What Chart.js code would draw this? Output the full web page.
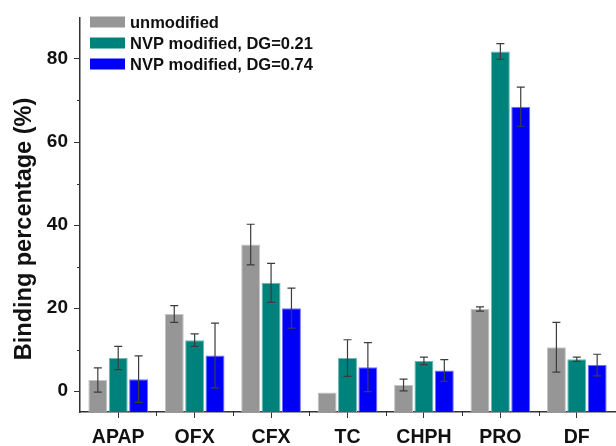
<!DOCTYPE html>
<html>
<head>
<meta charset="utf-8">
<script src="https://cdn.jsdelivr.net/npm/chart.js@4/dist/chart.umd.min.js"></script>
<style>
    html, body { margin: 0; padding: 0; background: #fff; }
    #wrap { width: 616px; height: 446px; }
</style>
</head>
<body>
<div id="wrap"><canvas id="bar-chart"></canvas></div>
<script>
const categories = ['APAP', 'OFX', 'CFX', 'TC', 'CHPH', 'PRO', 'DF'];
const series_labels = ['unmodified', 'NVP modified, DG=0.21', 'NVP modified, DG=0.74'];
const unmodified = [2.7, 18.6, 35.3, -0.3, 1.5, 19.8, 10.6];
const unmodified_err = [2.9, 2.0, 4.9, 0, 1.4, 0.5, 6.0];
const dg021 = [8.0, 12.3, 26.1, 8.0, 7.3, 81.8, 7.7];
const dg021_err = [2.8, 1.5, 4.7, 4.4, 0.9, 1.9, 0.5];
const dg074 = [2.9, 8.6, 20.0, 5.8, 5.0, 68.5, 6.3];
const dg074_err = [5.6, 7.8, 4.8, 5.9, 2.6, 4.7, 2.6];
const y_major_ticks = [0, 20, 40, 60, 80];
const y_minor_ticks = [10, 30, 50, 70];

const FONT = '"Liberation Sans", Arial, sans-serif';
Chart.defaults.font.family = FONT;
Chart.defaults.font.weight = 'bold';
Chart.defaults.color = '#111';

const errors = [unmodified_err, dg021_err, dg074_err];

// error bars, minor ticks, legend and y title drawn on top
const extras = {
    id: 'extras',
    afterDatasetsDraw(chart) {
        const ctx = chart.ctx;
        const y = chart.scales.y;
        ctx.save();
        ctx.strokeStyle = '#3c3c3c';
        ctx.lineWidth = 1.2;
        chart.data.datasets.forEach((ds, i) => {
            const meta = chart.getDatasetMeta(i);
            meta.data.forEach((bar, j) => {
                const e = errors[i][j];
                if (!e) return;
                const v = ds.data[j];
                const top = y.getPixelForValue(v + e);
                const bot = y.getPixelForValue(v - e);
                ctx.beginPath();
                ctx.moveTo(bar.x, top); ctx.lineTo(bar.x, bot);
                ctx.moveTo(bar.x - 4, top); ctx.lineTo(bar.x + 4, top);
                ctx.moveTo(bar.x - 4, bot); ctx.lineTo(bar.x + 4, bot);
                ctx.stroke();
            });
        });
        ctx.restore();
    },
    afterDraw(chart) {
        const ctx = chart.ctx;
        const { x, y } = chart.scales;
        const area = chart.chartArea;
        ctx.save();
        ctx.strokeStyle = '#333';
        ctx.lineWidth = 1;
        ctx.beginPath();
        for (const v of y_minor_ticks) {
            const py = Math.round(y.getPixelForValue(v)) + 0.5;
            ctx.moveTo(area.left - 3, py); ctx.lineTo(area.left, py);
        }
        const step = (area.right - area.left) / categories.length;
        for (let k = 1; k < categories.length; k++) {
            const px = Math.round(area.left + k * step) + 0.5;
            ctx.moveTo(px, area.bottom); ctx.lineTo(px, area.bottom + 4);
        }
        ctx.stroke();

        // legend
        ctx.font = 'bold 16.5px ' + FONT;
        ctx.textBaseline = 'middle';
        ctx.textAlign = 'left';
        chart.data.datasets.forEach((ds, i) => {
            const cy = 22 + i * 21;
            ctx.fillStyle = ds.backgroundColor;
            ctx.fillRect(90, cy - 5.5, 35, 11);
            ctx.fillStyle = '#111';
            ctx.fillText(ds.label, 130, cy + 1);
        });

        // y title
        ctx.translate(24, 229);
        ctx.rotate(-Math.PI / 2);
        ctx.textAlign = 'center';
        ctx.font = 'bold 23.5px ' + FONT;
        ctx.fillText('Binding percentage (%)', 0, 1);
        ctx.restore();
    }
};

function bar_set(label, data, color, border) {
    return {
        label,
        data,
        backgroundColor: color,
        borderColor: border,
        borderWidth: 1,
        base: -5,
        categoryPercentage: 0.8,
        barPercentage: 0.93
    };
}

const config = {
    type: 'bar',
    data: {
        labels: categories,
        datasets: [
            bar_set(series_labels[0], unmodified, '#969696', '#c4c4c4'),
            bar_set(series_labels[1], dg021, '#00827c', '#6fb8b2'),
            bar_set(series_labels[2], dg074, '#0000f6', '#7070ff')
        ]
    },
    options: {
        responsive: true,
        maintainAspectRatio: false,
        animation: false,
        layout: { padding: { top: 13, right: 1, left: 0, bottom: 0 } },
        plugins: {
            legend: { display: false },
            tooltip: { enabled: false }
        },
        scales: {
            x: {
                offset: true,
                grid: { display: true, offset: false, drawOnChartArea: false, tickLength: 6, tickColor: '#333', tickWidth: 1 },
                border: { color: '#333', width: 1.5 },
                ticks: { font: { size: 19.5, weight: 'bold' }, color: '#111', padding: 8, maxRotation: 0 },
                afterFit(scale) { scale.height = 34; }
            },
            y: {
                min: -5,
                max: 90,
                afterBuildTicks(scale) { scale.ticks = y_major_ticks.map(v => ({ value: v })); },
                grid: { display: true, drawOnChartArea: false, tickLength: 6, tickColor: '#333', tickWidth: 1 },
                border: { color: '#333', width: 1.5 },
                ticks: { font: { size: 19, weight: 'bold' }, color: '#111', padding: 6 },
                afterFit(scale) { scale.width = 80; }
            }
        }
    },
    plugins: [extras]
};

new Chart(document.getElementById('bar-chart'), config);
</script>
</body>
</html>
